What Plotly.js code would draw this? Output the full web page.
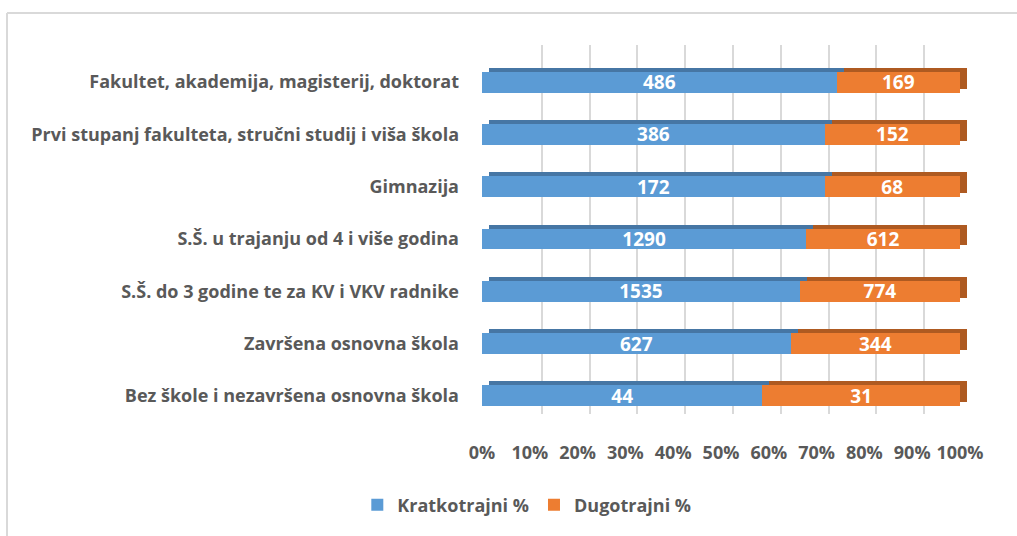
<!DOCTYPE html>
<html>
<head>
<meta charset="utf-8">
<script src="https://cdn.plot.ly/plotly-3.0.1.min.js"></script>
<style>
  body { margin: 0; background: #fff; }
  #chart { width: 1017px; height: 536px; }
</style>
</head>
<body>
<div id="chart"></div>
<script>
// education levels, bottom to top as drawn
var categories = [
    'Bez škole i nezavršena osnovna škola',
    'Završena osnovna škola',
    'S.Š. do 3 godine te za KV i VKV radnike',
    'S.Š. u trajanju od 4 i više godina',
    'Gimnazija',
    'Prvi stupanj fakulteta, stručni studij i viša škola',
    'Fakultet, akademija, magisterij, doktorat'
];
var kratkotrajni = [44, 627, 1535, 1290, 172, 386, 486];
var dugotrajni = [31, 344, 774, 612, 68, 152, 169];
var xTicks = [0, 10, 20, 30, 40, 50, 60, 70, 80, 90, 100];
var seriesNames = ['Kratkotrajni %', 'Dugotrajni %'];

var W = 1017, H = 536;
var labelFont = '"Open Sans", sans-serif';
var grey = '#595959';

// pixel helpers for domains
function px(x) { return x / W; }
function py(y) { return 1 - y / H; }

// front plot box
var fx0 = 482, fx1 = 960, fy0 = 56, fy1 = 422;
// depth offsets (bar side faces / back wall)
var dx = 7, dy = 4, wx = 12, wy = 11;

function barTrace(vals, color, axis, front, name) {
    var t = {
        type: 'bar',
        orientation: 'h',
        y: categories,
        x: vals,
        xaxis: axis[0],
        yaxis: axis[1],
        marker: { color: color, line: { width: 0 } },
        hoverinfo: 'skip',
        showlegend: false
    };
    if (front) {
        t.name = name;
        t.showlegend = true;
        t.text = vals.map(String);
        t.textposition = 'inside';
        t.insidetextanchor = 'middle';
        t.textangle = 0;
        t.constraintext = 'none';
        t.textfont = { family: labelFont, size: 19, color: '#ffffff', weight: 'bold' };
        t.hovertemplate = '%{y}: %{x}<extra>' + name + '</extra>';
        t.hoverinfo = undefined;
    }
    return t;
}

var data = [
    // back wall holder (invisible, only so the gridline axes get drawn)
    barTrace(kratkotrajni, 'rgba(0,0,0,0)', ['x', 'y'], false),
    // depth faces (drawn behind the front faces)
    barTrace(kratkotrajni, '#4676a4', ['x2', 'y2'], false),
    barTrace(dugotrajni, '#ae5a21', ['x2', 'y2'], false),
    // front faces
    barTrace(kratkotrajni, '#5b9bd5', ['x3', 'y3'], true, seriesNames[0]),
    barTrace(dugotrajni, '#ed7d31', ['x3', 'y3'], true, seriesNames[1])
];

var hiddenAxis = {
    range: [0, 100], showticklabels: false, showgrid: false,
    zeroline: false, showline: false, ticks: '', fixedrange: true
};
var hiddenCat = {
    type: 'category', range: [-0.5, 6.5], showticklabels: false,
    showgrid: false, zeroline: false, showline: false, ticks: '', fixedrange: true
};

var labelStyle = { family: labelFont, size: 18, color: grey, weight: 'bold' };

var layout = {
    width: W,
    height: H,
    margin: { l: 0, r: 0, t: 0, b: 0 },
    paper_bgcolor: '#ffffff',
    plot_bgcolor: 'rgba(0,0,0,0)',
    barmode: 'stack',
    barnorm: 'percent',
    bargap: 0.6,
    font: { family: labelFont, color: grey, size: 18 },
    // back wall with gridlines
    xaxis: Object.assign({}, hiddenAxis, {
        domain: [px(fx0 + wx), px(fx1 + wx)],
        anchor: 'y',
        showgrid: true, gridcolor: '#d9d9d9', gridwidth: 1.5,
        tickvals: xTicks
    }),
    yaxis: Object.assign({}, hiddenCat, {
        domain: [py(fy1 + 3 - wy), py(fy0 - wy)],
        anchor: 'x'
    }),
    // depth faces
    xaxis2: Object.assign({}, hiddenAxis, {
        domain: [px(fx0 + dx), px(fx1 + dx)],
        anchor: 'y2'
    }),
    yaxis2: Object.assign({}, hiddenCat, {
        domain: [py(fy1 - dy), py(fy0 - dy)],
        anchor: 'x2'
    }),
    // front faces with labels
    xaxis3: {
        domain: [px(fx0), px(fx1)],
        anchor: 'y3',
        range: [0, 100],
        tickvals: xTicks,
        ticktext: xTicks.map(function (v) { return v + '%'; }),
        showgrid: false, zeroline: false, showline: false, ticks: '',
        ticklabelstandoff: 18,
        tickfont: labelStyle,
        fixedrange: true
    },
    yaxis3: {
        type: 'category',
        domain: [py(fy1), py(fy0)],
        anchor: 'x3',
        range: [-0.5, 6.5],
        showgrid: false, zeroline: false, showline: false, ticks: '',
        ticklabelstandoff: 22,
        tickfont: labelStyle,
        fixedrange: true
    },
    legend: {
        orientation: 'h',
        x: 0.518, xanchor: 'center',
        y: py(505), yanchor: 'middle',
        font: labelStyle,
        itemwidth: 30,
        traceorder: 'normal'
    },
    shapes: [
        { type: 'line', xref: 'paper', yref: 'paper', x0: px(7), x1: px(7), y0: 0, y1: py(13),
          line: { color: '#d9d9d9', width: 2 } },
        { type: 'line', xref: 'paper', yref: 'paper', x0: px(7), x1: 1, y0: py(13), y1: py(13),
          line: { color: '#d9d9d9', width: 2 } }
    ],
    showlegend: true
};

Plotly.newPlot('chart', data, layout, { displayModeBar: false, responsive: false });
</script>
</body>
</html>
